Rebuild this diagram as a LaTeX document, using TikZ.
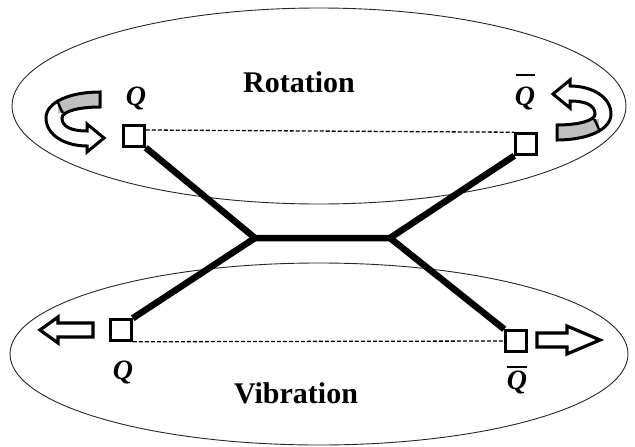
\documentclass[tikz,border=0pt]{standalone}
\usepackage{fontspec}
\setmainfont{Liberation Serif}
\begin{document}
\begin{tikzpicture}[x=1pt,y=-1pt,
  ell/.style={draw=black!85, line width=0.9pt},
  sq/.style={draw, fill=white, line width=2.5pt, minimum size=21pt, inner sep=0pt},
  stick/.style={line width=6.5pt},
  dashline/.style={line width=1.3pt, dash pattern=on 4pt off 2pt},
  lab/.style={font=\fontsize{28}{32}\selectfont\bfseries\itshape, inner sep=0pt},
  qbar/.style={line width=2pt},
  title/.style={font=\fontsize{30}{34}\selectfont\bfseries, inner sep=0pt},
  blk/.style={draw, fill=white, line width=3.2pt, line join=miter},
  rotarrow/.pic={
    \def\band{(25,-29) .. controls (-5,-29) and (-29,-19) .. (-29,-3)
      .. controls (-29,14) and (-10,25) .. (12,25)
      -- (12,31) -- (29,17) -- (12,3) -- (12,10)
      .. controls (-5,10) and (-13,5) .. (-13,-3)
      .. controls (-13,-10) and (5,-14) .. (25,-14) -- cycle}
    \fill[white] \band;
    \begin{scope}
      \clip \band;
      \fill[black!25] (-17,-40) rectangle (30,-8);
      \draw[line width=2.4pt] (-21,-26) .. controls (-16,-18) and (-15,-12) .. (-12,-8);
    \end{scope}
    \draw[line width=3pt, line join=miter] \band;
  }]
\useasboundingbox (0,0) rectangle (635,447);
% ellipses
\draw[ell] (319,106) ellipse [x radius=307, y radius=98];
\draw[ell] (319,354) ellipse [x radius=309, y radius=91];
% square nodes
\node[sq] (tl) at (134,136) {};
\node[sq] (tr) at (526,144) {};
\node[sq] (bl) at (121,330) {};
\node[sq] (br) at (516,341) {};
\coordinate (j1) at (255,238);
\coordinate (j2) at (390,238);
% dashed connectors
\draw[dashline] ([yshift=6pt]tl.east) -- (tr.north west);
\draw[dashline] (bl.south east) -- (br.west);
% sticks
\draw[stick] (tl.south east) -- (j1) -- (j2) -- (tr.south west);
\draw[stick] (j1) -- (bl.north east);
\draw[stick] (j2) -- (br.north west);
% redraw squares on top
\node[sq] at (tl) {};
\node[sq] at (tr) {};
\node[sq] at (bl) {};
\node[sq] at (br) {};
% labels
\node[lab] (q1) at (136,98) {Q};
\node[lab] (q2) at (525,98) {Q};
\draw[qbar] (516,75) -- (535,75);
\node[lab] (q3) at (123,372) {Q};
\node[lab] (q4) at (517,382) {Q};
\draw[qbar] (507,367) -- (527,367);
\node[title] (rot) at (299,82) {Rotation};
\node[title] (vib) at (296,393) {Vibration};
% straight block arrows
\draw[blk] (93,323) -- (58,323) -- (58,317) -- (40,330) -- (58,343) -- (58,337) -- (93,337) -- cycle;
\draw[blk] (537,333) -- (567,333) -- (567,326) -- (600,340) -- (567,354) -- (567,347) -- (537,347) -- cycle;
% curved rotation arrows
\pic at (75,121) {rotarrow};
\pic[rotate=180] at (582,111) {rotarrow};
\end{tikzpicture}
\end{document}
